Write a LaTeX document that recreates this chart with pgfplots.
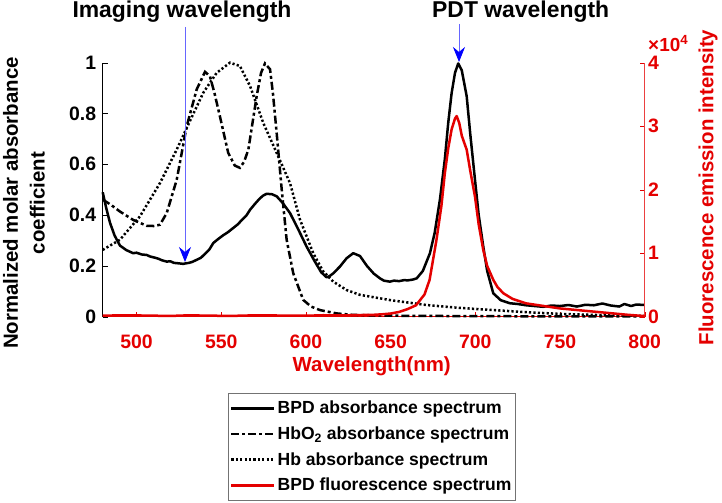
\documentclass[border=0pt]{standalone}
\usepackage{fontspec}
\setmainfont{Liberation Sans}
\usepackage{pgfplots}
\pgfplotsset{compat=1.18}
\usetikzlibrary{arrows.meta}
\definecolor{myred}{RGB}{228,0,0}
\definecolor{myblue}{RGB}{0,0,255}
\newcommand{\fs}[1]{\fontsize{#1}{#1}\selectfont\bfseries}
\begin{document}
\begin{tikzpicture}
\pgfplotsset{
  common/.style={at={(0bp,0bp)}, anchor=south west, scale only axis,
    width=542bp, height=254bp, xmin=480, xmax=800, clip=false,
    tick align=inside, major tick length=5bp,
    /pgf/number format/assume math mode=true,
    tick label style={font=\fs{19.5}}},
}
\begin{axis}[common,
  ymin=0, ymax=1,
  axis x line*=bottom, axis y line*=left,
  x axis line style={-, myred, line width=0.6bp},
  y axis line style={-, black, line width=0.6bp},
  xtick={500,550,600,650,700,750,800},
  xticklabels={500,550,600,650,700,750,800},
  xticklabel style={text=myred, yshift=-15bp},
  xtick style={myred},
  ytick={0,0.2,0.4,0.6,0.8,1},
  yticklabels={0,0.2,0.4,0.6,0.8,1},
  yticklabel style={xshift=-3bp},
  ytick style={black},
  legend style={at={(0.2312,-0.3004)}, anchor=north west, draw=black!55,
    font=\fs{17.6}, row sep=7.5bp, inner xsep=2bp, inner ysep=6bp},
  legend cell align=left,
  legend image code/.code={\draw[#1] (0bp,0bp) -- (43bp,0bp);},
]
% BPD absorbance
\addplot[black, line width=2.5bp, line join=round] coordinates {
(480,0.49) (482,0.43) (484.3,0.37) (487,0.32) (490.2,0.28) (494,0.262) (498,0.25)
(500,0.252) (503,0.245) (506,0.243) (508,0.237) (511,0.232) (513,0.228) (515,0.222)
(517.8,0.217) (520,0.218) (522,0.212) (525,0.21) (527.6,0.208) (529,0.21) (531,0.212)
(533,0.216) (535.5,0.224) (538,0.232) (540,0.245) (543,0.265) (545.3,0.29) (548,0.305)
(551,0.32) (554,0.333) (557,0.349) (560,0.365) (562,0.38) (565,0.4) (567,0.421)
(570,0.445) (572,0.46) (574.5,0.476) (576.8,0.484) (580,0.482) (582.7,0.474) (586,0.45)
(590.6,0.408) (595,0.35) (600.4,0.276) (605,0.22) (609,0.175) (612.2,0.155) (614,0.16)
(616,0.17) (620,0.197) (624,0.23) (627.9,0.25) (631.9,0.239) (636,0.2) (640,0.17)
(643.7,0.151) (646,0.142) (649.6,0.138) (652,0.142) (655,0.14) (658,0.144) (660,0.143)
(663,0.146) (665.4,0.151) (669,0.18) (673.2,0.25) (676,0.33) (679.1,0.461) (682,0.62)
(684,0.763) (686,0.88) (688,0.96) (689.9,0.997) (692,0.97) (694.9,0.868) (697,0.72)
(699.8,0.539) (702,0.40) (704.7,0.276) (707,0.18) (710.6,0.092) (715,0.065) (720.4,0.053)
(725,0.05) (730,0.045) (735,0.042) (740,0.039) (745,0.044) (750,0.042) (755,0.046)
(760,0.04) (765,0.047) (770,0.045) (775,0.052) (780,0.044) (785,0.04) (788,0.05)
(792,0.042) (795,0.048) (800,0.046)
};
\addlegendentry{BPD absorbance spectrum}
% HbO2 absorbance
\addplot[black, line width=2.5bp, dash pattern=on 8bp off 3bp on 3bp off 3bp] coordinates {
(480,0.461) (485,0.44) (490.2,0.414) (498,0.381) (506,0.358) (510,0.357) (513.8,0.362)
(517.8,0.408) (523.7,0.539) (529.6,0.75) (535.5,0.895) (540.4,0.964) (543.3,0.947)
(546,0.88) (549.2,0.789) (554.1,0.645) (558,0.595) (561,0.586) (563.5,0.61) (566,0.658)
(570.9,0.868) (573.5,0.96) (575.8,0.997) (578.8,0.974) (580.5,0.88) (582.7,0.724)
(585.7,0.5) (588.6,0.303) (592.5,0.171) (598.4,0.066) (603,0.04) (608.3,0.026)
(618,0.013) (627.9,0.007) (650,0.004) (700,0.002) (800,0.001)
};
\addlegendentry{HbO\textsubscript{2} absorbance spectrum}
% Hb absorbance
\addplot[black, line width=2.5bp, dash pattern=on 2.2bp off 2.2bp] coordinates {
(480,0.263) (490.2,0.303) (502,0.395) (513.8,0.526) (523.7,0.658) (531.5,0.770)
(539.4,0.882) (547.3,0.96) (555.1,1.0) (561,0.987) (567,0.908) (574.8,0.763)
(582.7,0.645) (590.6,0.526) (596.5,0.382) (604.3,0.25) (610,0.18) (616.1,0.138)
(624,0.105) (631.9,0.086) (650,0.065) (671.2,0.046) (690,0.035) (710.6,0.026)
(730,0.018) (750,0.011) (775,0.006) (800,0.003)
};
\addlegendentry{Hb absorbance spectrum}
\addlegendimage{myred, line width=2.5bp}
\addlegendentry{BPD fluorescence spectrum}
\end{axis}
\begin{axis}[common,
  ymin=0, ymax=40000,
  axis x line=none, axis y line*=right,
  y axis line style={-, myred!75, line width=0.6bp},
  ytick={0,10000,20000,30000,40000}, yticklabels={0,1,2,3,4},
  scaled y ticks=false,
  ytick style={myred}, yticklabel style={text=myred, inner ysep=1bp},
]
\addplot[myred, line width=2.5bp, line join=round] coordinates {
(480,150) (490,220) (500,200) (510,160) (520,120) (530,210) (540,180) (550,140)
(560,150) (570,220) (580,200) (590,160) (600,150) (610,230) (620,200) (630,250)
(640,300) (645,380) (650,500) (655,750) (660,1200) (665,1800) (670,3500) (673,5800)
(677,12000) (680,17500) (682,22600) (684,26500) (686,29500) (688,31200) (689,31600)
(690.5,30500) (692,28500) (694.9,26300) (697,23000) (699.8,18900) (702,14500)
(704.7,10500) (707,8000) (710.6,5800) (713,4700) (716.5,3700) (722,2800) (730,2100)
(740,1700) (750,1300) (760,1050) (770,800) (780,550) (790,300) (800,100)
};
\end{axis}
% arrows
\draw[myblue!60, line width=0.8bp, -{Stealth[length=15bp, width=12bp, inset=5bp, color=myblue]}]
  (82.3bp,289.7bp) -- (82.3bp,54.7bp);
\draw[myblue!60, line width=0.8bp, -{Stealth[length=15bp, width=12bp, inset=5bp, color=myblue]}]
  (356.3bp,292.7bp) -- (356.3bp,254.7bp);
% titles
\node[anchor=base, font=\fs{23}] at (79.3bp,298.7bp) {Imaging wavelength};
\node[anchor=base west, inner sep=0pt, font=\fs{23}] at (329.3bp,298.7bp) {PDT wavelength};
% axis labels
\node[rotate=90, align=center, font=\fontsize{20.5}{27}\selectfont\bfseries]
  at (-78.7bp,113.7bp) {Normalized molar absorbance\\coefficient};
\node[rotate=90, text=myred, font=\fs{20.5}] at (605.3bp,129.2bp) {Fluorescence emission intensity};
\node[text=myred, font=\fs{20.5}] at (269bp,-50bp) {Wavelength(nm)};
\node[anchor=base west, inner sep=0pt, text=myred, font=\fs{19}] at (545.3bp,265.5bp) {×10\textsuperscript{4}};
\pgfresetboundingbox
\useasboundingbox (-102.7bp,-186.3bp) rectangle (619.3bp,316.7bp);
\end{tikzpicture}
\end{document}
